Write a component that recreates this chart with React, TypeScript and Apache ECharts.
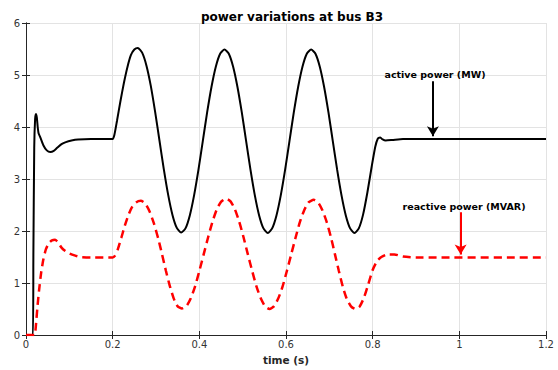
import React, { useEffect, useRef } from "react";
import * as echarts from "echarts";

const titleText = "power variations at bus B3";
const xAxisName = "time (s)";
const activeLabel = "active power (MW)";
const reactiveLabel = "reactive power (MVAR)";

const activePower: [number, number][] = [
  [0, 0], [0.016, 0], [0.017, 1.5], [0.019, 3.6], [0.021, 4.15], [0.023, 4.25], [0.025, 4.18],
  [0.027, 4.0], [0.029, 3.88], [0.033, 3.8], [0.04, 3.65], [0.048, 3.55], [0.056, 3.52],
  [0.064, 3.54], [0.072, 3.6], [0.082, 3.67], [0.092, 3.71], [0.105, 3.74], [0.12, 3.76],
  [0.15, 3.77], [0.2, 3.77], [0.204, 3.85], [0.21, 4.12], [0.218, 4.5], [0.226, 4.85],
  [0.234, 5.15], [0.242, 5.38], [0.25, 5.49], [0.258, 5.52],
  [0.268, 5.43], [0.278, 5.18], [0.288, 4.79], [0.298, 4.29], [0.308, 3.74], [0.318, 3.19],
  [0.328, 2.7], [0.338, 2.31], [0.348, 2.06], [0.358, 1.97],
  [0.368, 2.05], [0.378, 2.3], [0.388, 2.69], [0.398, 3.18], [0.408, 3.73], [0.418, 4.28],
  [0.428, 4.77], [0.438, 5.16], [0.448, 5.41], [0.458, 5.49],
  [0.468, 5.41], [0.478, 5.16], [0.488, 4.77], [0.498, 4.28], [0.508, 3.73], [0.518, 3.18],
  [0.528, 2.69], [0.538, 2.3], [0.548, 2.05], [0.558, 1.96],
  [0.568, 2.05], [0.578, 2.3], [0.588, 2.69], [0.598, 3.18], [0.608, 3.73], [0.618, 4.28],
  [0.628, 4.77], [0.638, 5.16], [0.648, 5.41], [0.658, 5.49],
  [0.668, 5.41], [0.678, 5.16], [0.688, 4.77], [0.698, 4.28], [0.708, 3.73], [0.718, 3.18],
  [0.728, 2.69], [0.738, 2.3], [0.748, 2.05], [0.758, 1.96],
  [0.768, 2.05], [0.778, 2.32], [0.788, 2.75], [0.798, 3.25], [0.806, 3.62], [0.812, 3.78],
  [0.817, 3.8], [0.823, 3.76], [0.83, 3.74], [0.845, 3.75], [0.87, 3.77], [1.2, 3.77],
];

const reactivePower: [number, number][] = [
  [0, 0], [0.02, 0], [0.022, 0.1], [0.026, 0.5], [0.03, 0.85], [0.035, 1.2], [0.04, 1.45],
  [0.046, 1.65], [0.053, 1.77], [0.06, 1.82], [0.067, 1.83], [0.074, 1.78], [0.082, 1.68],
  [0.09, 1.62], [0.1, 1.57], [0.112, 1.53], [0.125, 1.5], [0.15, 1.49], [0.2, 1.49],
  [0.205, 1.52], [0.212, 1.65], [0.22, 1.87], [0.228, 2.1], [0.236, 2.3], [0.244, 2.45],
  [0.254, 2.55], [0.265, 2.58],
  [0.275, 2.53], [0.285, 2.38], [0.295, 2.15], [0.305, 1.86], [0.314, 1.55], [0.323, 1.23],
  [0.332, 0.94], [0.341, 0.7], [0.35, 0.55], [0.36, 0.51],
  [0.37, 0.55], [0.38, 0.7], [0.39, 0.93], [0.4, 1.23], [0.41, 1.55], [0.42, 1.87],
  [0.43, 2.17], [0.44, 2.41], [0.45, 2.56], [0.462, 2.62],
  [0.472, 2.57], [0.482, 2.42], [0.492, 2.18], [0.502, 1.88], [0.512, 1.55], [0.522, 1.23],
  [0.532, 0.93], [0.542, 0.7], [0.552, 0.55], [0.562, 0.5],
  [0.572, 0.55], [0.582, 0.7], [0.592, 0.93], [0.602, 1.23], [0.612, 1.55], [0.622, 1.87],
  [0.632, 2.17], [0.642, 2.4], [0.652, 2.55], [0.664, 2.6],
  [0.674, 2.55], [0.684, 2.4], [0.694, 2.17], [0.704, 1.87], [0.713, 1.55], [0.722, 1.23],
  [0.731, 0.93], [0.74, 0.7], [0.75, 0.55], [0.76, 0.5],
  [0.77, 0.55], [0.78, 0.72], [0.79, 0.98], [0.8, 1.25], [0.81, 1.42], [0.82, 1.5],
  [0.835, 1.55], [0.85, 1.55], [0.87, 1.51], [0.9, 1.49], [1.2, 1.49],
];

// annotation arrows in data coordinates: [start, end]
const activeArrow: [number, number][] = [[0.939, 4.88], [0.939, 3.82]];
const reactiveArrow: [number, number][] = [[1.003, 2.36], [1.003, 1.55]];

const FONT = "'DejaVu Sans', Verdana, sans-serif";

export default function App() {
  const ref = useRef<HTMLDivElement>(null);
  useEffect(() => {
    document.body.style.margin = "0";
    if (!ref.current) return;
    const chart = echarts.init(ref.current, undefined, { renderer: "svg" });
    const axisLine = { show: true, lineStyle: { color: "#262626", width: 1 } };
    const axisLabel = { color: "#333333", fontSize: 10, fontFamily: FONT };
    chart.setOption({
      animation: false,
      backgroundColor: "#ffffff",
      title: {
        text: titleText,
        left: 287,
        top: 6,
        textAlign: "center",
        textStyle: { fontSize: 12, fontWeight: "bold", color: "#000", fontFamily: FONT },
      },
      grid: { left: 26, right: 12, top: 23, bottom: 32, containLabel: false },
      xAxis: [
        {
          type: "value",
          min: 0,
          max: 1.2,
          interval: 0.2,
          name: xAxisName,
          nameLocation: "middle",
          nameGap: 19,
          nameTextStyle: { fontSize: 10.5, fontWeight: "bold", color: "#262626", fontFamily: FONT },
          axisLine,
          axisTick: { show: true, inside: true, length: 4, lineStyle: { color: "#262626" } },
          axisLabel: {
            ...axisLabel,
            margin: 4,
            formatter: (v: number) => String(Math.round(v * 10) / 10),
          },
          splitLine: { show: true, lineStyle: { color: "#e3e3e3", width: 1 } },
        },
        {
          type: "value",
          position: "top",
          min: 0,
          max: 1.2,
          interval: 0.2,
          axisLine,
          axisTick: { show: true, inside: true, length: 4, lineStyle: { color: "#262626" } },
          axisLabel: { show: false },
          splitLine: { show: false },
        },
      ],
      yAxis: [
        {
          type: "value",
          min: 0,
          max: 6,
          interval: 1,
          axisLine,
          axisTick: { show: true, inside: true, length: 4, lineStyle: { color: "#262626" } },
          axisLabel: { ...axisLabel, margin: 6 },
          splitLine: { show: true, lineStyle: { color: "#e3e3e3", width: 1 } },
        },
        {
          type: "value",
          position: "right",
          min: 0,
          max: 6,
          interval: 1,
          axisLine,
          axisTick: { show: true, inside: true, length: 4, lineStyle: { color: "#262626" } },
          axisLabel: { show: false },
          splitLine: { show: false },
        },
      ],
      series: [
        {
          name: "active",
          type: "line",
          data: activePower,
          showSymbol: false,
          smooth: 0.2,
          lineStyle: { color: "#000000", width: 2 },
          z: 3,
          markLine: {
            silent: true,
            symbol: ["none", "arrow"],
            symbolSize: [9, 10],
            label: { show: false },
            lineStyle: { color: "#000000", width: 2, type: "solid" },
            data: [[{ coord: activeArrow[0] }, { coord: activeArrow[1] }]],
          },
        },
        {
          name: "reactive",
          type: "line",
          data: reactivePower,
          showSymbol: false,
          smooth: 0.2,
          lineStyle: { color: "#ff0000", width: 2.5, type: [8, 5] },
          z: 4,
          markLine: {
            silent: true,
            symbol: ["none", "arrow"],
            symbolSize: [9, 10],
            label: { show: false },
            lineStyle: { color: "#ff0000", width: 2, type: "solid" },
            data: [[{ coord: reactiveArrow[0] }, { coord: reactiveArrow[1] }]],
          },
        },
      ],
      graphic: [
        {
          type: "text",
          x: 435,
          y: 79,
          z: 100,
          style: {
            text: activeLabel,
            fill: "#000",
            font: `bold 9.5px ${FONT}`,
            align: "center",
            verticalAlign: "bottom",
          },
        },
        {
          type: "text",
          x: 464,
          y: 211,
          z: 100,
          style: {
            text: reactiveLabel,
            fill: "#000",
            font: `bold 9.5px ${FONT}`,
            align: "center",
            verticalAlign: "bottom",
          },
        },
      ],
    });
    return () => chart.dispose();
  }, []);
  return <div ref={ref} style={{ width: 558, height: 370 }} />;
}
